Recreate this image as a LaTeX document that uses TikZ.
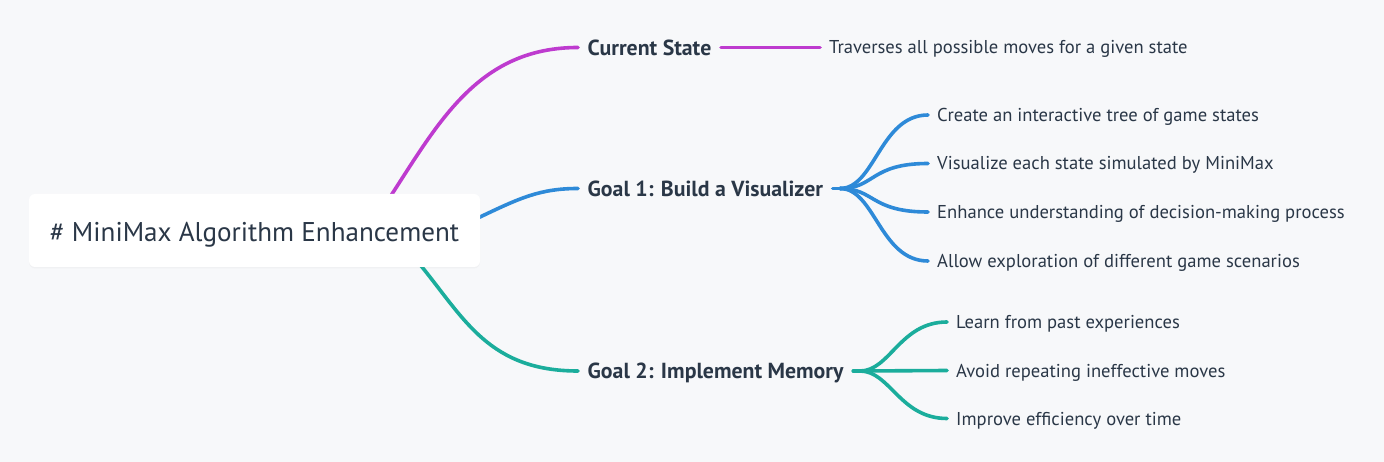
\documentclass[tikz,border=0pt]{standalone}
\usepackage{fontspec}
\setmainfont{PT Sans}
\usetikzlibrary{backgrounds,shadows,calc}
\definecolor{bg}{HTML}{F7F8FA}
\definecolor{cpurple}{HTML}{BE3BCF}
\definecolor{cblue}{HTML}{2E8AD8}
\definecolor{cteal}{HTML}{1BAD9C}
\definecolor{ctext}{HTML}{2A3747}
\begin{document}
\begin{tikzpicture}[x=1pt,y=-1pt,
  link/.style={line width=3.6pt, line cap=round},
  topic/.style={anchor=west, inner xsep=9.5pt, inner ysep=0pt, text=ctext,
    text height=15.2pt, text depth=0pt, font=\fontsize{21.8}{24}\selectfont\bfseries},
  leaf/.style={anchor=west, inner xsep=9pt, inner ysep=0pt, text=ctext,
    text height=13pt, text depth=0pt, font=\fontsize{18.6}{21}\selectfont},
  rootbox/.style={fill=white, rounded corners=6pt, minimum width=451pt, minimum height=73pt,
    inner sep=0pt, text=ctext, text height=23pt, text depth=0pt,
    font=\fontsize{27.1}{31}\selectfont,
    drop shadow={shadow xshift=0pt, shadow yshift=-1.5pt, opacity=0.05}},
]
\useasboundingbox (0,0) rectangle (1384,462);
% root
\node[rootbox] (root) at (254.5,230.5) {\# MiniMax Algorithm Enhancement};
% topics
\node[topic] (cs) at (578,47.5) {Current State};
\node[topic] (g1) at (578,188.5) {Goal 1: Build a Visualizer};
\node[topic] (g2) at (578,371) {Goal 2: Implement Memory};
% leaves
\node[leaf] (l0) at (820,47.5) {Traverses all possible moves for a given state};
\node[leaf] (b1) at (928,115) {Create an interactive tree of game states};
\node[leaf] (b2) at (928,163.5) {Visualize each state simulated by MiniMax};
\node[leaf] (b3) at (928,212) {Enhance understanding of decision-making process};
\node[leaf] (b4) at (928,261) {Allow exploration of different game scenarios};
\node[leaf] (t1) at (947,322) {Learn from past experiences};
\node[leaf] (t2) at (947,370.5) {Avoid repeating ineffective moves};
\node[leaf] (t3) at (947,418.5) {Improve efficiency over time};
% helper coordinates
\coordinate (rp) at (376,219);
\coordinate (rp1) at (392,194);
\coordinate (rb) at (460,226.5);
\coordinate (rb1) at (480,217);
\coordinate (rt) at (406,247);
\coordinate (rt1) at (422,267);
\coordinate (fb) at (840,188.5);
\coordinate (ft) at (860,371);
\begin{scope}[on background layer]
\fill[bg] (0,0) rectangle (1384,462);
% main branches
\draw[link,cpurple] (rp) -- (rp1) .. controls (440,120) and (480,47.5) .. (cs.west);
\draw[link,cblue] (rb) -- (rb1) .. controls (520,198) and (540,188.5) .. (g1.west);
\draw[link,cteal] (rt) -- (rt1) .. controls (465,320) and (490,371) .. (g2.west);
% purple leaf
\draw[link,cpurple] (cs.east) -- (l0.west);
% blue leaves
\draw[link,cblue] (g1.east) -- (fb);
\draw[link,cblue] (fb) .. controls ($(fb)+(35,0)$) and ($(b1.west)+(-48,0)$) .. (b1.west);
\draw[link,cblue] (fb) .. controls ($(fb)+(35,0)$) and ($(b2.west)+(-58,0)$) .. (b2.west);
\draw[link,cblue] (fb) .. controls ($(fb)+(35,0)$) and ($(b3.west)+(-58,0)$) .. (b3.west);
\draw[link,cblue] (fb) .. controls ($(fb)+(35,0)$) and ($(b4.west)+(-48,0)$) .. (b4.west);
% teal leaves
\draw[link,cteal] (g2.east) -- (ft);
\draw[link,cteal] (ft) .. controls ($(ft)+(30,0)$) and ($(t1.west)+(-47,0)$) .. (t1.west);
\draw[link,cteal] (ft) -- (t2.west);
\draw[link,cteal] (ft) .. controls ($(ft)+(30,0)$) and ($(t3.west)+(-47,0)$) .. (t3.west);
\end{scope}
\end{tikzpicture}
\end{document}
